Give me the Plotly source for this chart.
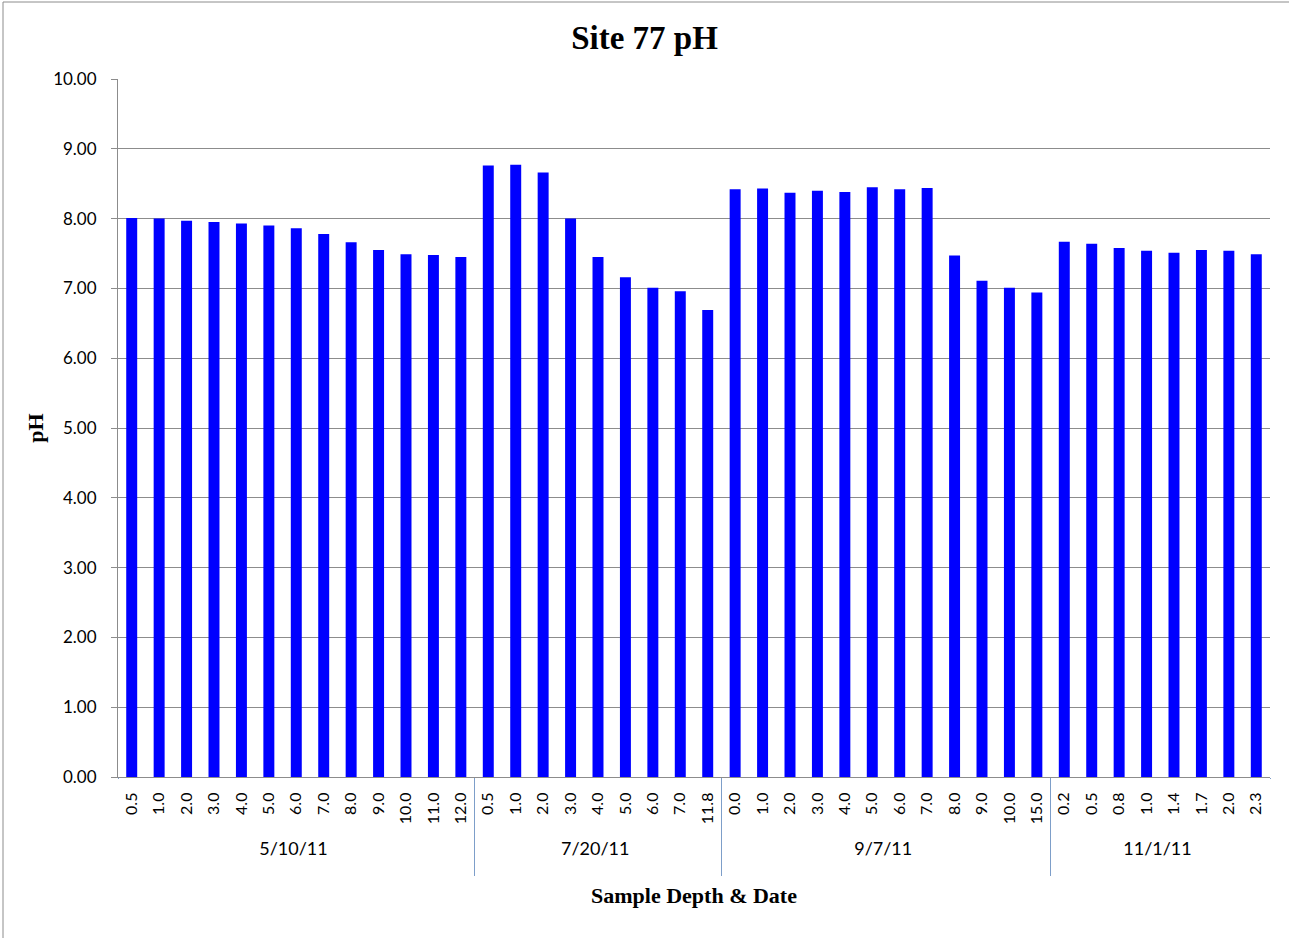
import plotly.graph_objects as go

dates = ["5/10/11"] * 13 + ["7/20/11"] * 9 + ["9/7/11"] * 12 + ["11/1/11"] * 8
depths = ["0.5", "1.0", "2.0", "3.0", "4.0", "5.0", "6.0", "7.0", "8.0", "9.0", "10.0", "11.0", "12.0",
          "0.5", "1.0", "2.0", "3.0", "4.0", "5.0", "6.0", "7.0", "11.8",
          "0.0", "1.0", "2.0", "3.0", "4.0", "5.0", "6.0", "7.0", "8.0", "9.0", "10.0", "15.0",
          "0.2", "0.5", "0.8", "1.0", "1.4", "1.7", "2.0", "2.3"]
ph = [8.01, 8.00, 7.97, 7.95, 7.93, 7.90, 7.86, 7.78, 7.66, 7.55, 7.49, 7.48, 7.45,
      8.76, 8.77, 8.66, 8.00, 7.45, 7.16, 7.01, 6.96, 6.69,
      8.42, 8.43, 8.37, 8.40, 8.38, 8.45, 8.42, 8.44, 7.47, 7.11, 7.01, 6.94,
      7.67, 7.64, 7.58, 7.54, 7.51, 7.55, 7.54, 7.49]

# keep each date group's depth labels distinct (zero-width marker) so plotly keeps data order;
# trailing no-break spaces push the rotated labels away from the axis line
group_order = list(dict.fromkeys(dates))
inner = [d + "\u00a0\u00a0" + "\u200b" * group_order.index(g) for g, d in zip(dates, depths)]
outer = ["<span style='font-size:18px'>%s</span><br><span style='font-size:1px'>\u00a0</span>" % g
         for g in dates]

fig = go.Figure(go.Bar(x=[outer, inner], y=ph, marker=dict(color="#0000FF", line=dict(width=0))))

W, H = 1289, 938
ml, mr, mt, mb = 118, 19, 79, 161
pw, ph_ = W - ml - mr, H - mt - mb
fig.update_layout(
    width=W, height=H,
    margin=dict(l=ml, r=mr, t=mt, b=mb),
    paper_bgcolor="white", plot_bgcolor="white",
    bargap=0.6,
    showlegend=False,
    title=dict(text="<b>Site 77 pH</b>", x=0.5, xanchor="center", y=1 - 37 / H, yanchor="middle",
               font=dict(family="Liberation Serif", size=33, color="black")),
    font=dict(family="Lato", size=16, color="black"),
)
fig.update_yaxes(range=[0, 10], dtick=1, tickformat=".2f", showgrid=True, gridcolor="#8c8c8c", gridwidth=1,
                 showline=True, linecolor="#8c8c8c", ticks="outside", ticklen=6, tickcolor="#8c8c8c",
                 ticklabelstandoff=11,
                 tickfont=dict(family="Lato", size=17), zeroline=False,
                 title=dict(text="<b>pH</b>", font=dict(family="Liberation Serif", size=22), standoff=3))
fig.update_xaxes(type="multicategory", showline=True, linecolor="#8c8c8c", tickangle=-90,
                 tickfont=dict(family="Lato", size=16), showdividers=True, dividercolor="#7d9ec9",
                 dividerwidth=1, ticks="",
                 title=dict(text="<b>Sample Depth &amp; Date</b>", font=dict(family="Liberation Serif", size=22),
                            standoff=12))
# hide the dividers at the two outer ends (reference has none there)
for xe in (0, 1):
    fig.add_shape(type="line", xref="paper", yref="paper", x0=xe, x1=xe,
                  y0=-2 / ph_, y1=-140 / ph_, line=dict(color="white", width=3), layer="above")
# outer border of chart (only top/left visible in the reference crop)
fig.add_shape(type="rect", xref="paper", yref="paper",
              x0=-(ml - 3) / pw, x1=1 + (mr + 20) / pw,
              y0=-(mb + 20) / ph_, y1=1 + (mt - 2) / ph_,
              line=dict(color="#8c8c8c", width=1), layer="below")
fig.write_html("out.html", config={"displayModeBar": False},
               post_script="document.body.style.margin='0';document.body.style.overflow='hidden';")
